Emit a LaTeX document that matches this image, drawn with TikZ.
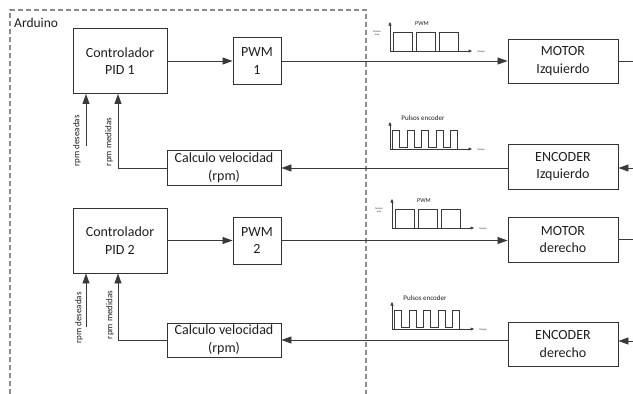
\documentclass[tikz,border=0pt]{standalone}
\usepackage{fontspec}
\setmainfont{Carlito}
\usetikzlibrary{arrows.meta}
\definecolor{boxc}{HTML}{333333}
\definecolor{wirec}{HTML}{3A3A3A}
\definecolor{txtc}{HTML}{1F1F1F}
\definecolor{dashc}{HTML}{8C8C8C}
\begin{document}
\begin{tikzpicture}[x=1pt,y=-1pt,
  blk/.style={draw=boxc, line width=0.9pt, align=center, font=\fontsize{14}{17.5}\selectfont, text=txtc, inner sep=0pt},
  wire/.style={draw=wirec, line width=0.8pt},
  arr/.style={wire, -{Triangle[length=10pt,width=7pt]}},
  sarr/.style={draw=wirec, line width=0.5pt, -{Triangle[length=3.5pt,width=3pt]}},
  wave/.style={draw=wirec, line width=0.6pt},
  rlab/.style={rotate=90, font=\fontsize{9}{10}\selectfont, text=txtc, inner sep=0pt},
  slab/.style={font=\fontsize{6}{7}\selectfont, text=txtc, inner sep=0pt},
  tlab/.style={font=\fontsize{2.5}{3}\selectfont, text=txtc, inner sep=0pt, align=center},
  frame/.style={draw=dashc, line width=1.2pt, dash pattern=on 5pt off 3pt}
]
\useasboundingbox (0,0) rectangle (633,394);

% Arduino frame
\draw[frame] (10,394) -- (10,10) -- (366,10) -- (366,394);
\node[anchor=west, font=\fontsize{13.5}{17}\selectfont, text=txtc, inner sep=0pt] (ard) at (14,23) {Arduino};

% Row 1 and 2 (left motor)
\node[blk, minimum width=94pt, minimum height=65pt] (pid1) at (120,61) {Controlador\\PID 1};
\node[blk, minimum width=48pt, minimum height=47pt] (pwm1) at (257,61) {PWM\\1};
\node[blk, minimum width=110pt, minimum height=44pt] (mot1) at (563,61) {MOTOR\\Izquierdo};
\node[blk, minimum width=114pt, minimum height=35pt] (calc1) at (224,168) {Calculo velocidad\\(rpm)};
\node[blk, minimum width=110pt, minimum height=45pt] (enc1) at (563,166.5) {ENCODER\\Izquierdo};

\draw[arr] (pid1.east) -- (pwm1.west);
\draw[arr] (pwm1.east) -- (mot1.west);
\coordinate (r1) at (633,61);
\draw[wire] (mot1.east) -- (r1);
\coordinate (r2) at (633,168);
\draw[arr] (r2) -- (r2 -| enc1.east);
\draw[arr] (enc1.west |- calc1.east) -- (calc1.east);
\draw[arr] (calc1.west) -| ([xshift=-2pt]pid1.south);
\coordinate (d1) at (86,146);
\draw[arr] (d1) -- (d1 |- pid1.south);
\node[rlab] (ld1) at (77,141) {rpm deseadas};
\node[rlab] (lm1) at (109,142) {rpm medidas};

% Row 3 and 4 (right motor)
\node[blk, minimum width=94pt, minimum height=65pt] (pid2) at (120,240.5) {Controlador\\PID 2};
\node[blk, minimum width=48pt, minimum height=47pt] (pwm2) at (257,240.5) {PWM\\2};
\node[blk, minimum width=110pt, minimum height=45pt] (mot2) at (563,239.5) {MOTOR\\derecho};
\node[blk, minimum width=114pt, minimum height=34pt] (calc2) at (224,340) {Calculo velocidad\\(rpm)};
\node[blk, minimum width=110pt, minimum height=44pt] (enc2) at (563,344) {ENCODER\\derecho};

\draw[arr] (pid2.east) -- (pwm2.west);
\draw[arr] (pwm2.east) -- (pwm2.east -| mot2.west);
\coordinate (r3) at (633,239.5);
\draw[wire] (mot2.east) -- (r3);
\coordinate (r4) at (633,341);
\draw[arr] (r4) -- (r4 -| enc2.east);
\draw[arr] (enc2.west |- calc2.east) -- (calc2.east);
\draw[arr] (calc2.west) -| ([xshift=-2pt]pid2.south);
\coordinate (d2) at (86,327);
\draw[arr] (d2) -- (d2 |- pid2.south);
\node[rlab] (ld2) at (79,318) {rpm deseadas};
\node[rlab] (lm2) at (110,315) {rpm medidas};

% PWM waveforms
\foreach \ox/\oy/\n in {390/51/a, 392/228/b}{
  \begin{scope}[shift={(\ox,\oy)}]
    \coordinate (o\n) at (0,0);
    \draw[sarr] (o\n) -- (0,-29);
    \draw[sarr] (o\n) -- (82,0);
    \draw[wave] (3,0) -- (3,-19) -- (22,-19) -- (22,0) -- (26,0) -- (26,-19) -- (45,-19) -- (45,0)
      -- (49,0) -- (49,-19) -- (68,-19) -- (68,0);
    \node[slab] (pl\n) at (32,-27) {PWM};
    \node[tlab] (tv\n) at (-13,-18) {Tension\\max};
    \node[tlab] (tt\n) at (91,1) {tiempo};
  \end{scope}
}

% Encoder waveforms
\foreach \ox/\oy/\n in {390/149/a, 392/329/b}{
  \begin{scope}[shift={(\ox,\oy)}]
    \coordinate (e\n) at (0,0);
    \draw[sarr] (e\n) -- (0,-27);
    \draw[sarr] (e\n) -- (82,0);
    \draw[wave] (2.5,0) -- (2.5,-19) -- (9.5,-19) -- (9.5,-2) -- (17,-2) -- (17,-19) -- (24,-19) -- (24,-2)
      -- (31.5,-2) -- (31.5,-19) -- (38.5,-19) -- (38.5,-2) -- (46,-2) -- (46,-19) -- (53,-19) -- (53,-2)
      -- (60.5,-2) -- (60.5,-19) -- (67.5,-19) -- (67.5,0);
    \node[font=\fontsize{7}{8}\selectfont, text=txtc, inner sep=0pt] (pe\n) at (33,-31) {Pulsos encoder};
    \node[tlab] (te\n) at (91,1) {tiempo};
  \end{scope}
}
\end{tikzpicture}
\end{document}
